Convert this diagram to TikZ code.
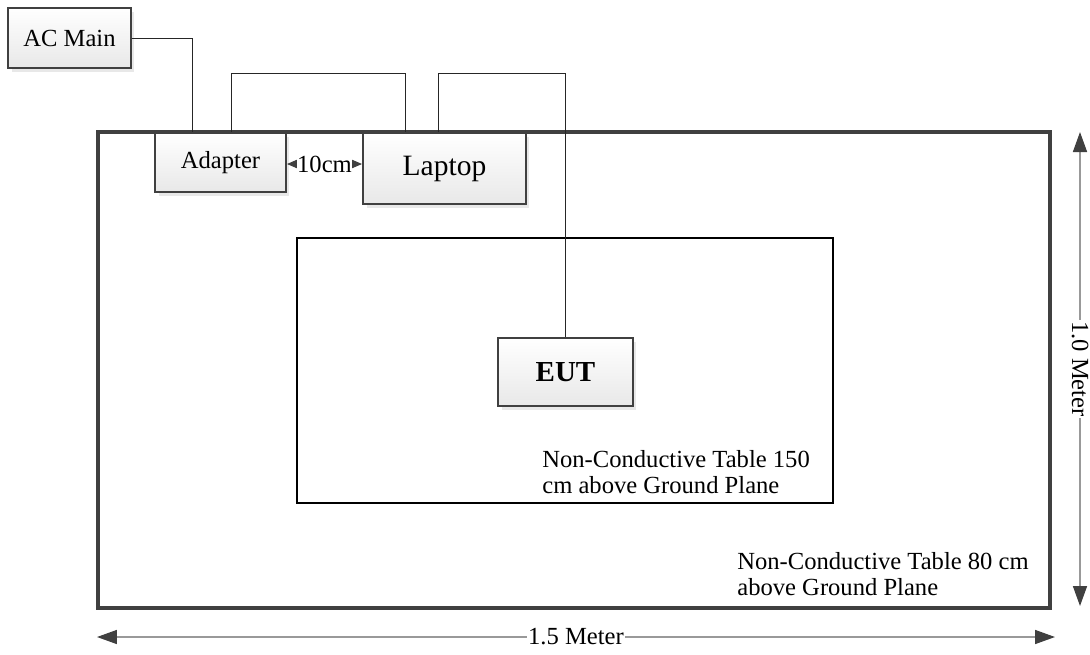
\documentclass[tikz,border=0pt]{standalone}
\usepackage{fontspec}
\setmainfont{Liberation Serif}
\usetikzlibrary{arrows.meta,shadows}

\begin{document}
\begin{tikzpicture}[
  x=0.02cm, y=-0.02cm,
  device/.style={draw=black!75, line width=1.1pt, top color=white, bottom color=black!9,
    drop shadow={shadow xshift=0.07cm, shadow yshift=-0.07cm, fill=black!18},
    inner sep=0pt, font=\fontsize{14}{16}\selectfont},
  cable/.style={draw=black!85, line width=0.55pt},
  table_edge/.style={draw=black!75, line width=1.8pt},
  dim_arrow/.style={draw=black!40, line width=0.9pt, {Triangle[length=0.4cm,width=0.28cm,color=black!75]}-{Triangle[length=0.4cm,width=0.28cm,color=black!75]}},
  label/.style={font=\fontsize{14}{14.7}\selectfont, align=left, inner sep=0pt}
  ]
	\useasboundingbox (0,0) rectangle (1090,654);

	% tables
	\draw[table_edge] (98,132) rectangle (1050,608);
	\draw[draw=black, line width=1pt] (297,238) rectangle (833,503);

	\node[device, minimum width=2.46cm, minimum height=1.2cm] (acmain) at (69.5,38) {AC Main};
	\node[device, minimum width=2.62cm, minimum height=1.18cm] (adapter) at (220.5,162.5) {Adapter};
	\node[device, minimum width=3.26cm, minimum height=1.42cm, font=\fontsize{16.8}{19}\selectfont] (laptop) at (444.5,168.5) {Laptop};
	\node[device, minimum width=2.7cm, minimum height=1.36cm, font=\fontsize{16.5}{19}\selectfont\bfseries] (eut) at (565.5,372) {EUT};

	\coordinate (cable_top) at (0,73);
	\coordinate (ac_in) at ([xshift=0.76cm]adapter.north west);
	\coordinate (dc_out) at ([xshift=1.54cm]adapter.north west);
	\coordinate (dc_in) at ([xshift=0.86cm]laptop.north west);
	\coordinate (usb_out) at ([xshift=1.52cm]laptop.north west);

	\draw[cable] (acmain.east) -| (ac_in);
	\draw[cable] (dc_out) -- (dc_out |- cable_top) -- (dc_in |- cable_top) -- (dc_in);
	\draw[cable] (usb_out) -- (usb_out |- cable_top) -- (eut.north |- cable_top) -- (eut.north);

	% 10cm spacing
	\draw[black!75, line width=0.6pt, {Triangle[length=0.24cm,width=0.2cm]}-{Triangle[length=0.24cm,width=0.2cm]}]
	  (adapter.east |- 0,164) -- node[fill=white, inner sep=0.3pt, text=black, font=\fontsize{14}{16}\selectfont] (gap) {10cm} (laptop.west |- 0,164);

	\node[label, anchor=north west] (inner_text) at (542,450) {Non-Conductive Table 150\\cm above Ground Plane};
	\node[label, anchor=north west] (outer_text) at (737,552) {Non-Conductive Table 80 cm\\above Ground Plane};

	% dimensions
	\coordinate (v_top) at (1080,132);
	\coordinate (v_bot) at (1080,606);
	\coordinate (h_left) at (97,637);
	\coordinate (h_right) at (1055,637);
	\draw[dim_arrow] (v_top) -- node[fill=white, inner sep=0.5pt, rotate=-90, font=\fontsize{14}{16}\selectfont] (depth) {1.0 Meter} (v_bot);
	\draw[dim_arrow] (h_left) -- node[fill=white, inner sep=0.5pt, font=\fontsize{14}{16}\selectfont] (width) {1.5 Meter} (h_right);
\end{tikzpicture}
\end{document}
